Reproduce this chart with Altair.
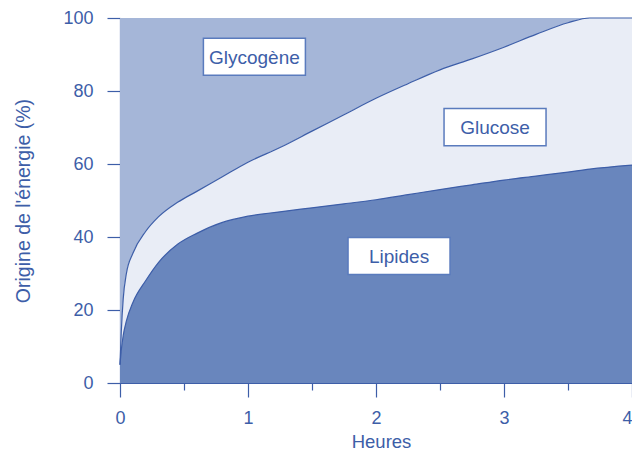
import altair as alt
import pandas as pd

# Time (hours)
hours = [0, 0.01, 0.025, 0.05, 0.1, 0.2, 0.3, 0.45, 0.6, 0.8, 1.0, 1.25, 1.5,
         1.75, 2.0, 2.25, 2.5, 2.75, 3.0, 3.25, 3.5, 3.67, 4.0]
# Cumulative share of energy (%): lipides (bottom), lipides + glucose (middle)
lipides = [5, 9, 13, 17, 22, 28, 33, 38, 41, 44, 45.7, 46.9, 48,
           49.1, 50.2, 51.6, 53, 54.3, 55.6, 56.7, 57.8, 58.6, 59.7]
lip_glu = [5, 14, 23, 30, 35.5, 41.5, 45.5, 49.5, 52.5, 56.5, 60.5, 64.5, 69,
           73.5, 78, 82, 85.8, 88.8, 92, 95.5, 98.7, 100, 100]
total = [100] * len(hours)

# Area labels
labels = ["Glycogène", "Glucose", "Lipides"]
label_x = [1.05, 2.93, 2.18]
label_y = [89.4, 70.1, 34.8]

BLUE = "#3d5ea8"
FONT = "Liberation Sans"

df = pd.DataFrame({"h": hours, "lip": lipides, "glu": lip_glu, "tot": total})
lab = pd.DataFrame({"label": labels, "x": label_x, "y": label_y})

xscale = alt.Scale(domain=[0, 4], nice=False, zero=False)
yscale = alt.Scale(domain=[0, 100], nice=False)

xaxis = alt.Axis(
    title="Heures",
    values=[0, 0.5, 1, 1.5, 2, 2.5, 3, 3.5, 4],
    labelExpr="datum.value % 1 === 0 ? format(datum.value, 'd') : ''",
    tickSize={"condition": {"test": "datum.value % 1 === 0", "value": 14}, "value": 7},
    labelAlign={"condition": {"test": "datum.value === 4", "value": "right"}, "value": "center"},
    labelPadding=12,
    titleX=261,
    titleY=64,
    titleAlign="center",
    titleBaseline="alphabetic",
    labelFlush=False,
    labelOverlap=False,
    labelBound=False,
)
yaxis = alt.Axis(
    title="Origine de l'énergie (%)",
    values=list(range(0, 101, 10)),
    labelExpr="datum.value % 20 === 0 ? format(datum.value, 'd') : ''",
    tickSize={"condition": {"test": "datum.value % 20 === 0", "value": 13}, "value": 7},
    labelPadding=14,
    titleX=-97,
    titleY=182.5,
    titleAngle=-90,
    titleBaseline="middle",
    titleAlign="center",
    titleFontSize=19.5,
    labelOverlap=False,
)

base = alt.Chart(df)

glycogene = base.mark_area(color="#a5b6d8", interpolate="monotone", opacity=1).encode(
    x=alt.X("h:Q", scale=xscale, axis=xaxis),
    y=alt.Y("tot:Q", scale=yscale, axis=yaxis),
    y2="glu:Q",
)
glucose = base.mark_area(color="#e9edf6", interpolate="monotone", opacity=1).encode(
    x="h:Q", y="glu:Q", y2="lip:Q"
)
lipid = base.mark_area(color="#6986bd", interpolate="monotone", opacity=1).encode(
    x="h:Q", y="lip:Q"
)
line_glu = base.mark_line(color=BLUE, strokeWidth=1.2, interpolate="monotone").encode(
    x="h:Q", y="glu:Q"
)
line_lip = base.mark_line(color=BLUE, strokeWidth=1.2, interpolate="monotone").encode(
    x="h:Q", y="lip:Q"
)

boxes = alt.Chart(lab).mark_point(
    shape="M-1,-0.363L1,-0.363L1,0.363L-1,0.363Z",
    size=102 * 102,
    filled=True,
    fill="white",
    stroke="#5a7bbd",
    strokeWidth=1.5,
    opacity=1,
    fillOpacity=1,
).encode(x="x:Q", y="y:Q")

texts = alt.Chart(lab).mark_text(
    font=FONT, fontSize=19, color=BLUE, baseline="middle", align="center", dy=1
).encode(x="x:Q", y="y:Q", text="label:N")

chart = alt.layer(glycogene, glucose, lipid, line_glu, line_lip, boxes, texts).properties(
    width=512,
    height=365,
    autosize=alt.AutoSizeParams(type="none"),
    padding={"left": 112, "top": 10, "right": 0, "bottom": 68},
).configure_view(
    stroke=BLUE, strokeWidth=1
).configure_axis(
    domainColor=BLUE,
    domainWidth=1.2,
    tickColor=BLUE,
    tickWidth=1.2,
    labelColor=BLUE,
    labelFont=FONT,
    labelFontSize=18,
    titleColor=BLUE,
    titleFont=FONT,
    titleFontSize=18.5,
    titleFontWeight="normal",
    grid=False,
)

chart.save("out.html", embed_options={"renderer": "svg", "actions": False})
